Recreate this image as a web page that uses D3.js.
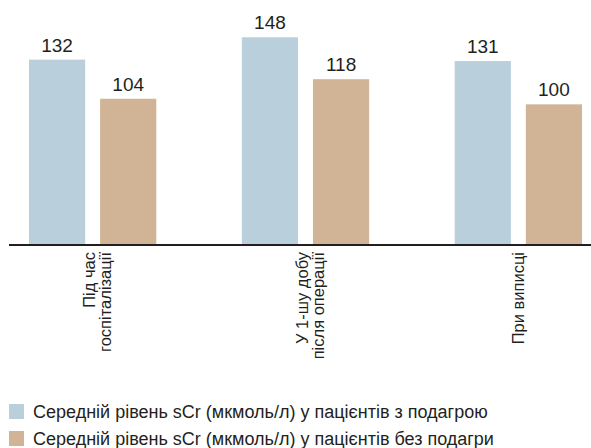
<!DOCTYPE html>
<html>
<head>
<meta charset="utf-8">
<script src="https://cdn.jsdelivr.net/npm/d3@7/dist/d3.min.js"></script>
<style>
  body { margin: 0; background: #fff; }
  svg text { font-family: "Liberation Sans", Arial, sans-serif; fill: #231f20; }
</style>
</head>
<body>
<div id="graphic"></div>
<script>
// Chart data
var categories = [
  ['Під час', 'госпіталізації'],
  ['У 1-шу добу', 'після операції'],
  ['При виписці']
];
var seriesNames = [
  'Середній рівень sCr (мкмоль/л) у пацієнтів з подагрою',
  'Середній рівень sCr (мкмоль/л) у пацієнтів без подагри'
];
var withGout = [132, 148, 131];
var withoutGout = [104, 118, 100];
var colors = ['#b9d0dc', '#d1b496'];

var W = 591, H = 448;

var svg = d3.select('#graphic').append('svg')
  .attr('width', W)
  .attr('height', H);

var catKeys = categories.map(function (c) { return c.join(' '); });
var seriesValues = [withGout, withoutGout];

var x0 = d3.scaleBand()
  .domain(catKeys)
  .range([29, 582])
  .paddingInner(0.402)
  .paddingOuter(0);

var x1 = d3.scaleBand()
  .domain([0, 1])
  .range([0, x0.bandwidth()])
  .paddingInner(0.21);

var y = d3.scaleLinear()
  .domain([0, 150])
  .range([244, 34.5]);

// bars + value labels
var groups = svg.selectAll('g.group')
  .data(catKeys)
  .enter().append('g')
  .attr('class', 'group')
  .attr('transform', function (d) { return 'translate(' + x0(d) + ',0)'; });

groups.each(function (key, i) {
  var g = d3.select(this);
  seriesValues.forEach(function (vals, s) {
    g.append('rect')
      .attr('x', x1(s))
      .attr('y', y(vals[i]))
      .attr('width', x1.bandwidth())
      .attr('height', y(0) - y(vals[i]))
      .attr('fill', colors[s]);
    g.append('text')
      .attr('x', x1(s) + x1.bandwidth() / 2)
      .attr('y', y(vals[i]) - 8)
      .attr('text-anchor', 'middle')
      .style('font-size', '19px')
      .text(vals[i]);
  });
});

// axis line
svg.append('line')
  .attr('x1', 9)
  .attr('x2', W)
  .attr('y1', y(0) + 1)
  .attr('y2', y(0) + 1)
  .attr('stroke', '#231f20')
  .attr('stroke-width', 2);

// rotated category labels
var lineH = 16;
categories.forEach(function (lines, i) {
  var cx = x0(catKeys[i]) + x0.bandwidth() / 2;
  var offset = 6 - (lines.length - 1) * 3.5;
  var t = svg.append('text')
    .attr('transform', 'translate(' + cx + ',252) rotate(-90)')
    .attr('text-anchor', 'end')
    .style('font-size', '16.5px');
  lines.forEach(function (l, j) {
    t.append('tspan')
      .attr('x', 0)
      .attr('y', offset + j * lineH)
      .text(l);
  });
});

// legend
var legend = svg.selectAll('g.legend')
  .data(seriesNames)
  .enter().append('g')
  .attr('class', 'legend')
  .attr('transform', function (d, i) { return 'translate(9,' + (404 + i * 27) + ')'; });

legend.append('rect')
  .attr('width', 15)
  .attr('height', 15)
  .attr('fill', function (d, i) { return colors[i]; });

legend.append('text')
  .attr('x', 24)
  .attr('y', 13.5)
  .style('font-size', '18px')
  .text(function (d) { return d; });
</script>
</body>
</html>
